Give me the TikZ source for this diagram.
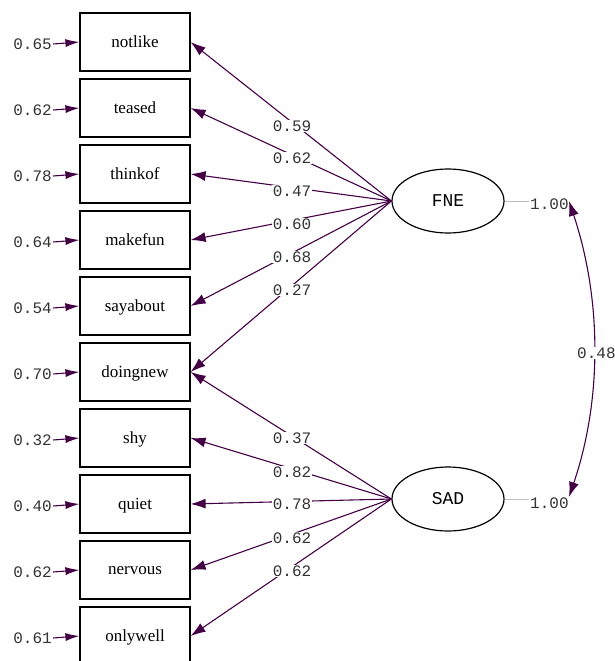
\documentclass[tikz,border=0pt]{standalone}
\usepackage{fontspec}
\setmainfont{Liberation Serif}
\newfontfamily\monof{Liberation Mono}
\usetikzlibrary{arrows.meta,shapes.geometric}
\definecolor{pth}{HTML}{440044}
\definecolor{lbl}{HTML}{333333}
\tikzset{
  obs/.style={draw,line width=1.2pt,minimum width=110pt,minimum height=58pt,inner sep=0pt,font=\fontsize{17}{20}\selectfont},
  lat/.style={draw,ellipse,line width=1.2pt,minimum width=112pt,minimum height=64pt,inner sep=0pt,font=\monof\fontsize{18}{20}\selectfont},
  num/.style={text=lbl,font=\monof\fontsize{16}{18}\selectfont,inner sep=1pt},
  wnum/.style={num,fill=white},
  load/.style={draw=pth,line width=1.1pt,-{Latex[length=15pt,width=10pt]}},
  earr/.style={draw=pth,line width=1.1pt,-{Latex[length=14pt,width=8pt]}},
  fix/.style={draw=black!25,line width=1pt},
  cov/.style={draw=pth,line width=1.1pt,{Latex[length=15pt,width=10pt]}-{Latex[length=15pt,width=10pt]}}
}
\begin{document}
\begin{tikzpicture}[x=1pt,y=-1pt]
\useasboundingbox (0,0) rectangle (615,661);
\clip (0,0) rectangle (615,661);
% observed
\foreach \i/\t in {1/notlike,2/teased,3/thinkof,4/makefun,5/sayabout,6/doingnew,7/shy,8/quiet,9/nervous,10/onlywell}{
  \node[obs,text depth=-4pt] (b\i) at (135,{42+66*(\i-1)}) {\t};
}
% errors
\foreach \i/\v in {1/0.65,2/0.62,3/0.78,4/0.64,5/0.54,6/0.70,7/0.32,8/0.40,9/0.62,10/0.61}{
  \node[num,anchor=east] (e\i) at (53,{42+66*(\i-1)+2}) {\v};
  \draw[earr] (e\i.east) -- (b\i.west);
}
% latents
\node[lat] (FNE) at (448,201) {FNE};
\node[lat] (SAD) at (448,499) {SAD};
% loadings
\foreach \i in {1,...,6}{\draw[load] (FNE.west) -- (b\i.east);}
\foreach \i in {6,...,10}{\draw[load] (SAD.west) -- (b\i.east);}
\node[wnum] (l1) at (292,126) {0.59};
\node[wnum] (l2) at (292,158) {0.62};
\node[wnum] (l3) at (292,191) {0.47};
\node[wnum] (l4) at (292,224) {0.60};
\node[wnum] (l5) at (292,257) {0.68};
\node[wnum] (l6) at (292,290) {0.27};
\node[wnum] (m1) at (292,438) {0.37};
\node[wnum] (m2) at (292,472) {0.82};
\node[wnum] (m3) at (292,504) {0.78};
\node[wnum] (m4) at (292,538) {0.62};
\node[wnum] (m5) at (292,571) {0.62};
% variances
\node[num,anchor=west] (vF) at (529,204) {1.00};
\node[num,anchor=west] (vS) at (529,503) {1.00};
\draw[fix] (FNE.east) -- (vF.west |- FNE.east);
\draw[fix] (SAD.east) -- (vS.west |- SAD.east);
% covariance
\coordinate (c1) at (569,201);
\coordinate (c2) at (569,497);
\draw[cov] (c1) .. controls (602,300) and (602,400) .. (c2);
\node[num,fill=white,anchor=west] (r) at (576,353) {0.48};
\end{tikzpicture}
\end{document}
